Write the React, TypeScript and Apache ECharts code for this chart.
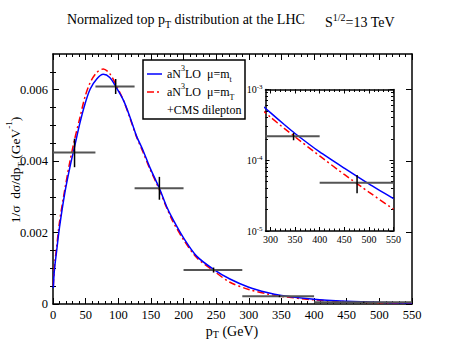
import React, { useEffect, useRef } from "react";
import * as echarts from "echarts";

// ---- data ----
const pT = [0.5, 1.5, 3, 5, 10, 18, 26, 33, 41, 49, 57, 67, 77, 87, 97, 108, 118, 128, 138, 148, 163, 174, 184, 200, 220, 246, 271, 300, 328, 350, 400, 450, 500, 550];
const blueMt = [0.00045, 0.0008, 0.0011, 0.0014, 0.00215, 0.0031, 0.00384, 0.0044, 0.00505, 0.0056, 0.00602, 0.0063, 0.00643, 0.00634, 0.00606, 0.0057, 0.00523, 0.0047, 0.0043, 0.00384, 0.00324, 0.00273, 0.00236, 0.00185, 0.00134, 0.00097, 0.0007, 0.000471, 0.00032, 0.000239, 0.000131, 0.0000773, 0.0000463, 0.0000287];
const redMT = [0.0005, 0.0009, 0.0012, 0.0015, 0.0023, 0.0032, 0.004, 0.0046, 0.0052, 0.0058, 0.0062, 0.00648, 0.00658, 0.00645, 0.00612, 0.0057, 0.0052, 0.00468, 0.00425, 0.0038, 0.0032, 0.0027, 0.0023, 0.0018, 0.0013, 0.00093, 0.00061, 0.000407, 0.000282, 0.000214, 0.000115, 0.000063, 0.0000355, 0.0000203];

const cmsLo = [0, 65, 125, 200, 290, 400];
const cmsHi = [65, 125, 200, 290, 400, 550];
const cmsX = [33, 96, 163, 246, 347, 476];
const cmsY = [0.00424, 0.00609, 0.00324, 0.00095, 0.000218, 0.0000482];
const cmsYLo = [0.00383, 0.00588, 0.00292, 0.00088, 0.000192, 0.0000343];
const cmsYHi = [0.00463, 0.0063, 0.00356, 0.00102, 0.000243, 0.0000618];

// ---- tick values ----
const mainYMajor = [0, 0.002, 0.004, 0.006];
const mainYMinor = [0.0005, 0.001, 0.0015, 0.0025, 0.003, 0.0035, 0.0045, 0.005, 0.0055, 0.0065];
const insetXMajor = [300, 350, 400, 450, 500, 550];
const insetXMinor = [300, 310, 320, 330, 340, 350, 360, 370, 380, 390, 400, 410, 420, 430, 440, 450, 460, 470, 480, 490, 500, 510, 520, 530, 540, 550];
const insetYMinor = [2e-5, 3e-5, 4e-5, 5e-5, 6e-5, 7e-5, 8e-5, 9e-5, 2e-4, 3e-4, 4e-4, 5e-4, 6e-4, 7e-4, 8e-4, 9e-4];

const FONT = "Liberation Serif";
const AX = { color: "#000", width: 1.5 };

const MAIN = { left: 53, top: 54, width: 359, height: 250 };
const INSET = { left: 265.5, top: 89.5, width: 128, height: 141.5 };

function App() {
  const ref = useRef<HTMLDivElement>(null);
  useEffect(() => {
    if (!ref.current) return;
    const chart = echarts.init(ref.current, null, { renderer: "svg" });

    const mainBlue = pT.map((x, i) => [x, blueMt[i]]);
    const mainRed = pT.map((x, i) => [x, redMT[i]]);
    const insetBlue = pT.map((x, i) => [x, Math.log10(blueMt[i])]);
    const insetRed = pT.map((x, i) => [x, Math.log10(redMT[i])]);
    const mainErr = cmsX.map((x, i) => [x, cmsLo[i], cmsHi[i], cmsY[i], cmsYLo[i], cmsYHi[i]]);
    const insetErr = cmsX
      .map((x, i) => [x, cmsLo[i], cmsHi[i], Math.log10(cmsY[i]), Math.log10(cmsYLo[i]), Math.log10(cmsYHi[i])])
      .filter((d, i) => cmsHi[i] > 290);

    const renderErr = (params: any, api: any) => {
      const a = api.coord([api.value(1), api.value(3)]);
      const b = api.coord([api.value(2), api.value(3)]);
      const c = api.coord([api.value(0), api.value(4)]);
      const d = api.coord([api.value(0), api.value(5)]);
      return {
        type: "group",
        children: [
          { type: "line", shape: { x1: a[0], y1: a[1], x2: b[0], y2: b[1] }, style: { stroke: "#555", lineWidth: 2 } },
          { type: "line", shape: { x1: c[0], y1: c[1], x2: d[0], y2: d[1] }, style: { stroke: "#000", lineWidth: 1.5 } },
        ],
      };
    };

    const hidden = { show: false };
    const xMain = (pos: string, labels: boolean) => ({
      type: "value", gridIndex: 0, position: pos, min: 0, max: 550, interval: 50,
      axisLine: { show: true, onZero: false, lineStyle: AX },
      axisTick: { show: true, inside: true, length: 6, lineStyle: { color: "#000", width: 1 } },
      minorTick: { show: true, splitNumber: 5, length: 3, lineStyle: { color: "#000", width: 1 } },
      axisLabel: { show: labels, fontFamily: FONT, fontSize: 12.5, color: "#000", margin: 4 },
      splitLine: hidden, minorSplitLine: hidden,
    });
    const yMainMajor = (pos: string, labels: boolean) => ({
      type: "value", gridIndex: 0, position: pos, min: 0, max: 0.007,
      axisLine: { show: true, onZero: false, lineStyle: AX },
      axisTick: { show: true, inside: true, length: 6, customValues: mainYMajor, lineStyle: { color: "#000", width: 1 } },
      axisLabel: { show: labels, customValues: mainYMajor, fontFamily: FONT, fontSize: 12.5, color: "#000", margin: 5 },
      splitLine: hidden,
    });
    const yMainMinor = (pos: string) => ({
      type: "value", gridIndex: 0, position: pos, min: 0, max: 0.007,
      axisLine: hidden,
      axisTick: { show: true, inside: true, length: 3, customValues: mainYMinor, lineStyle: { color: "#000", width: 1 } },
      axisLabel: hidden, splitLine: hidden,
    });
    const xInsetMajor = (pos: string, labels: boolean) => ({
      type: "value", gridIndex: 1, position: pos, min: 290, max: 550,
      axisLine: { show: true, onZero: false, lineStyle: AX },
      axisTick: { show: true, inside: true, length: 4, customValues: insetXMajor, lineStyle: { color: "#000", width: 1 } },
      axisLabel: { show: labels, customValues: insetXMajor, fontFamily: FONT, fontSize: 10, color: "#000", margin: 3 },
      splitLine: hidden,
    });
    const xInsetMinor = (pos: string) => ({
      type: "value", gridIndex: 1, position: pos, min: 290, max: 550,
      axisLine: hidden,
      axisTick: { show: true, inside: true, length: 2.5, customValues: insetXMinor, lineStyle: { color: "#000", width: 1 } },
      axisLabel: hidden, splitLine: hidden,
    });
    const yInsetMajor = (pos: string, labels: boolean) => ({
      type: "value", gridIndex: 1, position: pos, min: -5, max: -3, interval: 1,
      axisLine: { show: true, onZero: false, lineStyle: AX },
      axisTick: { show: true, inside: true, length: 4, lineStyle: { color: "#000", width: 1 } },
      axisLabel: {
        show: labels, margin: 3,
        formatter: (v: number) => `{b|10}{s|${v}}`,
        rich: {
          b: { fontFamily: FONT, fontSize: 10, color: "#000", lineHeight: 12 },
          s: { fontFamily: FONT, fontSize: 7, color: "#000", lineHeight: 7, verticalAlign: "top" },
        },
      },
      splitLine: hidden,
    });
    const yInsetMinor = (pos: string) => ({
      type: "value", gridIndex: 1, position: pos, min: -5, max: -3,
      axisLine: hidden,
      axisTick: { show: true, inside: true, length: 2.5, customValues: insetYMinor.map((v) => Math.log10(v)), lineStyle: { color: "#000", width: 1 } },
      axisLabel: hidden, splitLine: hidden,
    });

    const mkRich = (size: number, extra = 7) => ({
      m: { fontSize: size, lineHeight: size + extra, fontFamily: FONT, fill: "#000" },
      s: { fontSize: Math.round(size * 0.7), lineHeight: 9, verticalAlign: "bottom", fontFamily: FONT, fill: "#000" },
      u: { fontSize: Math.round(size * 0.7), lineHeight: 9, verticalAlign: "top", fontFamily: FONT, fill: "#000" },
    });

    const option: any = {
      animation: false,
      backgroundColor: "#fff",
      textStyle: { fontFamily: FONT },
      grid: [
        { ...MAIN, containLabel: false },
        { ...INSET, containLabel: false },
      ],
      xAxis: [
        xMain("bottom", true),
        xMain("top", false),
        xInsetMajor("bottom", true),
        xInsetMinor("bottom"),
        xInsetMajor("top", false),
        xInsetMinor("top"),
      ],
      yAxis: [
        yMainMajor("left", true),
        yMainMinor("left"),
        yMainMajor("right", false),
        yMainMinor("right"),
        yInsetMajor("left", true),
        yInsetMinor("left"),
        yInsetMajor("right", false),
        yInsetMinor("right"),
      ],
      series: [
        {
          type: "line", name: "aN3LO mu=mt", xAxisIndex: 0, yAxisIndex: 0, data: mainBlue,
          showSymbol: false, smooth: 0.3, lineStyle: { color: "#0000ff", width: 1.5 }, z: 3,
        },
        {
          type: "line", name: "aN3LO mu=mT", xAxisIndex: 0, yAxisIndex: 0, data: mainRed,
          showSymbol: false, smooth: 0.3, lineStyle: { color: "#ff0000", width: 1.5, type: [7, 3, 2, 3] }, z: 2,
        },
        { type: "custom", name: "CMS", xAxisIndex: 0, yAxisIndex: 0, data: mainErr, renderItem: renderErr, encode: { x: [0, 1, 2], y: [3, 4, 5] }, z: 4 },
        {
          type: "line", xAxisIndex: 2, yAxisIndex: 4, data: insetBlue, showSymbol: false, smooth: 0.2,
          lineStyle: { color: "#0000ff", width: 1.5 }, z: 3, clip: true,
        },
        {
          type: "line", xAxisIndex: 2, yAxisIndex: 4, data: insetRed, showSymbol: false, smooth: 0.2,
          lineStyle: { color: "#ff0000", width: 1.5, type: [7, 3, 2, 3] }, z: 2, clip: true,
        },
        { type: "custom", xAxisIndex: 2, yAxisIndex: 4, data: insetErr, renderItem: renderErr, encode: { x: [0, 1, 2], y: [3, 4, 5] }, z: 4, clip: true },
      ],
      graphic: [
        {
          type: "text", left: 67, top: 12,
          style: { text: "{m|Normalized top p}{s|T}{m| distribution at the LHC}", rich: mkRich(14), fill: "#000" },
        },
        {
          type: "text", left: 325, top: 12,
          style: { text: "{m|S}{u|1/2}{m|=13 TeV}", rich: mkRich(14), fill: "#000" },
        },
        {
          type: "text", x: 232, y: 331,
          style: { text: "{m|p}{s|T}{m| (GeV)}", rich: mkRich(14, 2), align: "center", verticalAlign: "middle", fill: "#000" },
        },
        {
          type: "text", x: 15, y: 170, rotation: Math.PI / 2,
          style: { text: "{m|1/σ  dσ/dp}{s|T}{m| (GeV}{u|-1}{m|)}", rich: mkRich(13.5), align: "center", verticalAlign: "middle", fill: "#000" },
        },
        {
          type: "rect", shape: { x: 143, y: 60, width: 102, height: 59 },
          style: { fill: "#fff", stroke: "#000", lineWidth: 1.5 }, z: 10,
        },
        { type: "line", shape: { x1: 147, y1: 74, x2: 162, y2: 74 }, style: { stroke: "#0000ff", lineWidth: 1.5 }, z: 11 },
        { type: "line", shape: { x1: 147, y1: 92, x2: 162, y2: 92 }, style: { stroke: "#ff0000", lineWidth: 1.5, lineDash: [7, 3, 2, 3] }, z: 11 },
        {
          type: "text", x: 167, y: 74, z: 11,
          style: { text: "{m|aN}{u|3}{m|LO  μ=m}{s|t}", rich: mkRich(12), verticalAlign: "middle", fill: "#000" },
        },
        {
          type: "text", x: 167, y: 92, z: 11,
          style: { text: "{m|aN}{u|3}{m|LO  μ=m}{s|T}", rich: mkRich(12), verticalAlign: "middle", fill: "#000" },
        },
        {
          type: "text", x: 167, y: 110, z: 11,
          style: { text: "+CMS dilepton", fontFamily: FONT, fontSize: 12, verticalAlign: "middle", fill: "#000" },
        },
      ],
    };
    chart.setOption(option);
    return () => chart.dispose();
  }, []);
  return <div ref={ref} style={{ position: "absolute", left: 0, top: 0, width: 463, height: 358 }} />;
}

export default App;
